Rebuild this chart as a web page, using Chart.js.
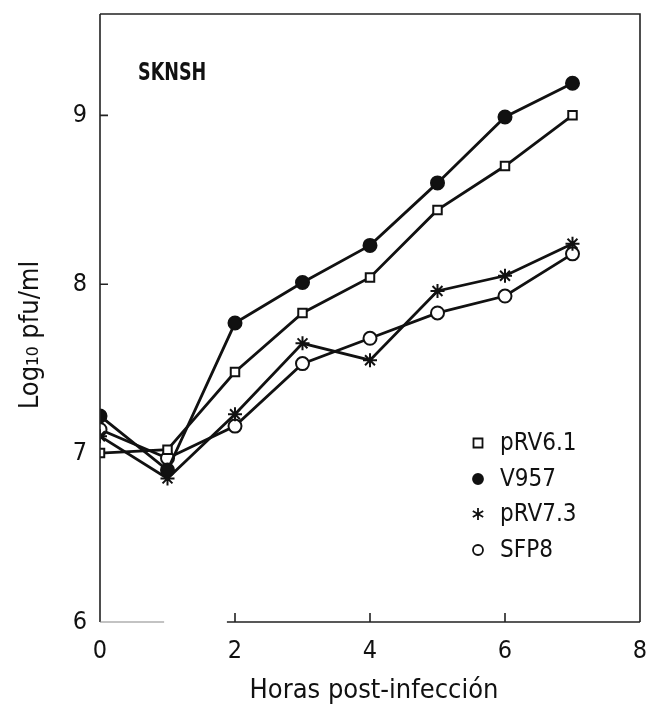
<!DOCTYPE html>
<html>
<head>
<meta charset="utf-8">
<script src="https://cdn.jsdelivr.net/npm/chart.js@4.4.1/dist/chart.umd.min.js"></script>
<style>
  body { margin: 0; background: #fff; }
  #wrap { width: 650px; height: 713px; }
</style>
</head>
<body>
<div id="wrap"><canvas id="growthChart"></canvas></div>
<script>
// Curvas de crecimiento en SKNSH
const hours = [0, 1, 2, 3, 4, 5, 6, 7];
const seriesNames = ['pRV6.1', 'V957', 'pRV7.3', 'SFP8'];
const pRV61 = [7.00, 7.02, 7.48, 7.83, 8.04, 8.44, 8.70, 9.00];
const v957 = [7.22, 6.90, 7.77, 8.01, 8.23, 8.60, 8.99, 9.19];
const pRV73 = [7.10, 6.85, 7.23, 7.65, 7.55, 7.96, 8.05, 8.24];
const sfp8 = [7.14, 6.97, 7.16, 7.53, 7.68, 7.83, 7.93, 8.18];
const xTicks = [0, 2, 4, 6, 8];
const yTicks = [6, 7, 8, 9];

const FONT = "'Liberation Sans Narrow', 'DejaVu Sans Condensed', 'Liberation Sans', sans-serif";
const INK = '#111';

function pts(values) {
    return hours.map((h, i) => ({ x: h, y: values[i] }));
}

function makeSet(label, values, style, fill, radius) {
    return {
        label: label,
        data: pts(values),
        borderColor: INK,
        borderWidth: 2.8,
        pointStyle: style,
        pointRadius: radius,
        pointBackgroundColor: fill,
        pointBorderColor: INK,
        pointBorderWidth: 2,
        tension: 0
    };
}

function drawSymbol(ctx, style, fill, x, y) {
    ctx.save();
    ctx.strokeStyle = INK;
    ctx.fillStyle = fill;
    ctx.lineWidth = 1.8;
    ctx.beginPath();
    if (style === 'rect') {
        ctx.rect(x - 4.5, y - 4.5, 9, 9);
        ctx.fill(); ctx.stroke();
    } else if (style === 'circle') {
        ctx.arc(x, y, 5, 0, Math.PI * 2);
        ctx.fill(); ctx.stroke();
    } else if (style === 'star') {
        for (let k = 0; k < 3; k++) {
            const a = Math.PI / 2 + k * Math.PI / 3;
            ctx.moveTo(x + 6 * Math.cos(a), y + 6 * Math.sin(a));
            ctx.lineTo(x - 6 * Math.cos(a), y - 6 * Math.sin(a));
        }
        ctx.stroke();
    }
    ctx.restore();
}

const framePlugin = {
    id: 'frame',
    afterDraw(chart) {
        const ctx = chart.ctx;
        const xs = chart.scales.x, ys = chart.scales.y;
        const a = chart.chartArea;
        ctx.save();
        ctx.strokeStyle = '#222';
        ctx.lineWidth = 1.6;
        ctx.beginPath();
        // caja con eje inferior interrumpido
        ctx.moveTo(a.left, a.top); ctx.lineTo(a.left, a.bottom);
        ctx.moveTo(a.left, a.top); ctx.lineTo(a.right, a.top);
        ctx.lineTo(a.right, a.bottom);
        ctx.moveTo(a.right, a.bottom); ctx.lineTo(xs.getPixelForValue(1.88), a.bottom);
        ctx.stroke();
        ctx.strokeStyle = '#888';
        ctx.lineWidth = 1.2;
        ctx.beginPath();
        ctx.moveTo(a.left, a.bottom); ctx.lineTo(xs.getPixelForValue(0.95), a.bottom);
        ctx.stroke();
        // marcas internas
        ctx.strokeStyle = '#222';
        ctx.lineWidth = 1.6;
        ctx.beginPath();
        [2, 4, 6].forEach(v => {
            const px = xs.getPixelForValue(v);
            ctx.moveTo(px, a.bottom); ctx.lineTo(px, a.bottom - 9);
        });
        [8, 9].forEach(v => {
            const py = ys.getPixelForValue(v);
            ctx.moveTo(a.left, py); ctx.lineTo(a.left + 8, py);
        });
        ctx.stroke();

        ctx.fillStyle = INK;
        // etiqueta de la linea celular
        ctx.save();
        ctx.font = 'bold 25px ' + FONT;
        ctx.textAlign = 'left';
        ctx.textBaseline = 'middle';
        ctx.translate(138, 73);
        ctx.scale(0.78, 1);
        ctx.fillText('SKNSH', 0, 0);
        ctx.restore();

        // leyenda
        ctx.font = '24px ' + FONT;
        ctx.textAlign = 'left';
        ctx.textBaseline = 'middle';
        const rows = [443, 479, 514, 550];
        chart.data.datasets.forEach((ds, i) => {
            drawSymbol(ctx, ds.pointStyle, ds.pointBackgroundColor, 478, rows[i]);
            ctx.fillStyle = INK;
            ctx.fillText(ds.label, 500, rows[i] + 1);
        });

        // titulos de ejes
        ctx.textAlign = 'center';
        ctx.font = '27px ' + FONT;
        ctx.fillText('Horas post-infección', 374, 691);
        ctx.translate(31, 335);
        ctx.rotate(-Math.PI / 2);
        ctx.fillText('Log\u2081\u2080 pfu/ml', 0, 0);
        ctx.restore();
    }
};

new Chart(document.getElementById('growthChart'), {
    type: 'line',
    data: {
        datasets: [
            makeSet(seriesNames[0], pRV61, 'rect', '#fff', 6),
            makeSet(seriesNames[1], v957, 'circle', INK, 6.5),
            makeSet(seriesNames[2], pRV73, 'star', '#fff', 7),
            makeSet(seriesNames[3], sfp8, 'circle', '#fff', 6.5)
        ]
    },
    options: {
        responsive: true,
        maintainAspectRatio: false,
        animation: false,
        layout: { padding: { top: 14, right: 10, left: 0, bottom: 0 } },
        plugins: { legend: { display: false }, tooltip: { enabled: false } },
        scales: {
            x: {
                type: 'linear',
                min: 0,
                max: 8,
                afterBuildTicks: s => { s.ticks = xTicks.map(v => ({ value: v })); },
                afterFit: s => { s.height = 91; s.paddingLeft = 0; s.paddingRight = 0; },
                grid: { display: false },
                border: { display: false },
                ticks: { color: INK, padding: 6, font: { family: FONT, size: 25 } }
            },
            y: {
                min: 6,
                max: 9.6,
                afterBuildTicks: s => { s.ticks = yTicks.map(v => ({ value: v })); },
                afterFit: s => { s.width = 100; s.paddingTop = 0; s.paddingBottom = 0; },
                grid: { display: false },
                border: { display: false },
                ticks: { color: INK, padding: 5, font: { family: FONT, size: 25 } }
            }
        }
    },
    plugins: [framePlugin]
});
</script>
</body>
</html>
